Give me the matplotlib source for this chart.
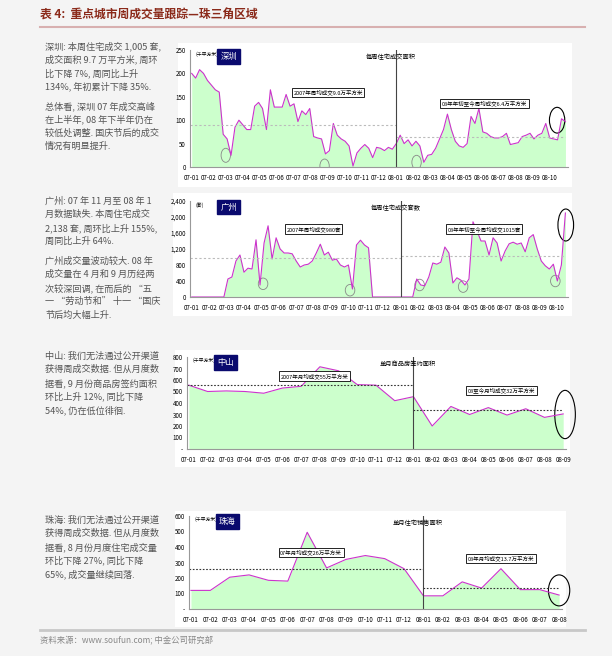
import numpy as np
import matplotlib
matplotlib.use("Agg")
import matplotlib.pyplot as plt
from matplotlib.patches import Ellipse

plt.rcParams['font.family'] = ['Noto Sans CJK SC', 'DejaVu Sans']

W, H = 612, 656
fig = plt.figure(figsize=(W/100, H/100), dpi=100)
fig.patch.set_facecolor('#f4f4f4')

months07 = ['07-%02d' % i for i in range(1, 13)]
months08 = ['08-%02d' % i for i in range(1, 11)]

sz_vals = [200,190,208,200,185,175,165,160,70,60,25,85,100,90,80,80,130,138,125,80,
           165,128,128,128,155,130,135,97,120,112,125,65,62,60,28,35,93,68,60,55,
           45,2,30,40,48,40,20,42,40,35,42,38,50,68,50,58,45,55,45,10,
           25,27,40,60,80,113,80,55,45,42,50,108,93,125,75,72,65,62,62,65,72,
           48,50,52,65,68,72,60,68,72,93,62,60,58,103,97]
sz_avg07, sz_avg08 = 90, 64

gz_vals = [0]*9 + [450,500,900,1050,620,720,700,1430,300,1350,1780,950,1480,1200,1100,1100,
           1080,900,750,800,820,900,1100,1320,1050,1120,920,950,800,750,800,200,1300,1420,
           1300,1230] + [0]*11 + [450,300,280,500,850,820,870,1250,1100,350,480,420,300,450,
           1880,1650,1400,1400,1050,1480,1350,900,1150,1330,1370,1320,1350,1130,1480,1560,
           1200,900,780,700,820,400,800,2100]
gz_avg07, gz_avg08 = 980, 1015

zs_labels = months07 + months08[:9]
zs_vals = [555,500,505,500,485,530,545,715,680,560,555,420,455,200,370,300,360,295,350,275,305]
zs_avg07, zs_avg08 = 555, 340

zh_labels = months07 + months08[:8]
zh_vals = [120,120,205,220,185,180,495,265,320,345,325,260,85,85,175,135,260,125,125,90]
zh_avg07, zh_avg08 = 255, 137

def rect(x0, y0, x1, y1):
    return [x0/W, 1-y1/H, (x1-x0)/W, (y1-y0)/H]

fig.text(40/W, 1-15/H, '表 4:  重点城市周成交量跟踪—珠三角区域', color='#8b2a1a', fontsize=8.5,
         va='center', fontweight='bold')
fig.add_artist(plt.Line2D([40/W, 585/W], [1-27/H, 1-27/H], color='#d8b0b0', lw=1.5))
fig.add_artist(plt.Line2D([40/W, 585/W], [1-630/H, 1-630/H], color='#c8c8c8', lw=2))
fig.text(40/W, 1-641/H, '资料来源：www.soufun.com; 中金公司研究部', color='#888888', fontsize=6, va='center')

texts = [
 (46, ['深圳: 本周住宅成交 1,005 套,', '成交面积 9.7 万平方米, 周环', '比下降 7%, 周同比上升', '134%, 年初累计下降 35%.',
       '', '总体看, 深圳 07 年成交高峰', '在上半年, 08 年下半年仍在', '较低处调整. 国庆节后的成交', '情况有明显提升.']),
 (201, ['广州: 07 年 11 月至 08 年 1', '月数据缺失. 本周住宅成交', '2,138 套, 周环比上升 155%,', '周同比上升 64%.',
        '', '广州成交量波动较大. 08 年', '成交量在 4 月和 9 月历经两', '次较深回调, 在而后的 “五', '一 “劳动节和” 十一 “国庆', '节后均大幅上升.']),
 (356, ['中山: 我们无法通过公开渠道', '获得周成交数据. 但从月度数', '据看, 9 月份商品房签约面积', '环比上升 12%, 同比下降', '54%, 仍在低位徘徊.']),
 (520, ['珠海: 我们无法通过公开渠道', '获得周成交数据. 但从月度数', '据看, 8 月份月度住宅成交量', '环比下降 27%, 同比下降', '65%, 成交量继续回落.']),
]
for y0, lines in texts:
    y = y0
    for ln in lines:
        if ln == '':
            y += 6
            continue
        fig.text(45/W, 1-y/H, ln, fontsize=6.6, color='#555555', va='center')
        y += 13.5

def panel(box, plot, x, vals, ymax, yticks, ytlabels, xlabels, avg07, avg08, split, unit, city, title,
          note07, note08, note07pos, note08pos, circles, endellipse, monthly):
    bax = fig.add_axes(rect(*box))
    bax.set_facecolor('white'); bax.set_xticks([]); bax.set_yticks([])
    for s in bax.spines.values(): s.set_visible(False)
    bax.set_zorder(0)
    ax = fig.add_axes(rect(*plot))
    ax.set_zorder(1)
    ax.set_facecolor('none')
    ax.fill_between(x, 0, vals, color='#ccffcc', lw=0)
    ax.plot(x, vals, color='#cc33cc', lw=0.8)
    ax.set_ylim(0, ymax)
    ax.set_xlim(-0.1, x[-1] + 0.15)
    ax.set_yticks(yticks); ax.set_yticklabels(ytlabels, fontsize=4.5)
    ax.set_xticks(range(len(xlabels))); ax.set_xticklabels(xlabels, fontsize=4.5)
    ax.tick_params(axis='y', length=0, pad=3)
    ax.tick_params(axis='x', length=0, pad=5)
    for s in ['top', 'right']: ax.spines[s].set_visible(False)
    ax.spines['left'].set_color('#999999'); ax.spines['bottom'].set_color('#999999')
    ls = (0, (2, 2)) if not monthly else (0, (1.5, 1.5))
    col = '#bbbbbb' if not monthly else '#333333'
    ax.plot([-0.1, split], [avg07, avg07], color=col, ls=ls, lw=0.8)
    ax.plot([split, x[-1]], [avg08, avg08], color=col, ls=ls, lw=0.8)
    ax.axvline(split, color='#444444', lw=0.8)
    ax.text(0.015, 0.99, unit, transform=ax.transAxes, fontsize=3.5, va='top')
    ax.text(0.08, 0.985, city, transform=ax.transAxes, fontsize=6, va='top', color='white',
            bbox=dict(boxstyle='square,pad=0.35', fc='#0a0a6e', ec='#0a0a6e'))
    ax.text(split - 0.3, ymax*0.97, title, fontsize=4.5, va='top', ha='center')
    for txt, (px, py) in [(note07, note07pos), (note08, note08pos)]:
        ax.text(px, py, txt, fontsize=4, ha='center', va='center',
                bbox=dict(boxstyle='square,pad=0.3', fc='white', ec='black', lw=0.6))
    for cx, cy in circles:
        ax.add_patch(Ellipse((cx, cy), 0.55, ymax*0.12, fill=False, ec='#888888', lw=0.6))
    ex, ey, ew, eh = endellipse
    ax.add_patch(Ellipse((ex, ey), ew, eh, fill=False, ec='black', lw=0.8, clip_on=False))
    return ax

wk = 4.33
x_sz = np.arange(len(sz_vals)) / wk
panel((178, 43, 572, 187), (190, 50, 568, 167), x_sz, sz_vals, 250, [0,50,100,150,200,250],
      ['0','50','100','150','200','250'], months07+months08, sz_avg07, sz_avg08, 12.0,
      '(千平方米)', '深圳', '每周住宅成交面积', '2007年周均成交9.0万平方米', '08年年初至今周均成交6.4万平方米',
      (8.0, 160), (17.2, 135), [(2.0, 25), (7.8, 2), (13.2, 10)], (21.45, 100, 0.9, 55), False)

x_gz = np.arange(len(gz_vals)) / wk
panel((173, 193, 572, 316), (190, 201, 568, 297), x_gz, gz_vals, 2400, [0,400,800,1200,1600,2000,2400],
      ['0','400','800','1,200','1,600','2,000','2,400'], months07+months08, gz_avg07, gz_avg08, 12.0,
      '(套)', '广州', '每周住宅成交套数', '2007年周均成交980套', '08年年初至今周均成交1015套',
      (7.0, 1700), (16.8, 1700), [(4.1, 330), (9.1, 170), (13.1, 300), (15.6, 260), (20.9, 400)],
      (21.5, 1800, 0.9, 800), False)

panel((175, 350, 570, 467), (187, 357, 566, 449), np.arange(len(zs_vals)), zs_vals, 800,
      [0,100,200,300,400,500,600,700,800], ['-','100','200','300','400','500','600','700','800'],
      zs_labels, zs_avg07, zs_avg08, 12.0, '(千平方米)', '中山', '单月商品房签约面积',
      '2007年月均成交55万平方米', '08至今月均成交32万平方米', (6.7, 635), (16.7, 510), [],
      (20.1, 300, 1.1, 420), True)

panel((175, 511, 566, 627), (189, 516, 562, 609), np.arange(len(zh_vals)), zh_vals, 600,
      [0,100,200,300,400,500,600], ['-','100','200','300','400','500','600'],
      zh_labels, zh_avg07, zh_avg08, 12.0, '(千平方米)', '珠海', '单月住宅销售面积',
      '07年月均成交26万平方米', '08年月均成交13.7万平方米', (6.2, 365), (16.0, 325), [],
      (19.0, 120, 1.1, 200), True)

fig.savefig('out.png', dpi=100, facecolor=fig.get_facecolor())
